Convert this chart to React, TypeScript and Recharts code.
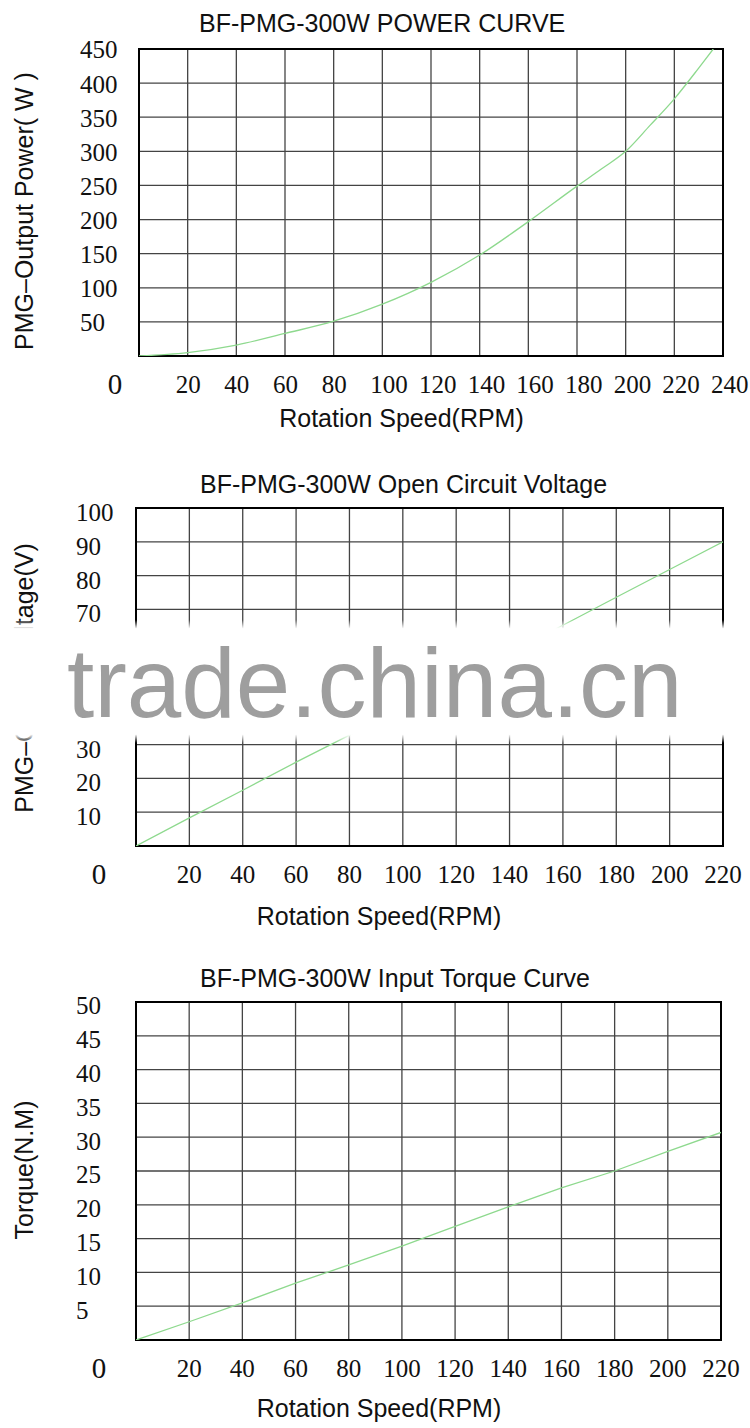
import React from 'react';
import { LineChart, Line, XAxis, YAxis, CartesianGrid, ReferenceArea } from 'recharts';

// ---------- Data ----------
const powerRpm = [0, 20, 40, 60, 80, 100, 120, 140, 160, 180, 190, 200, 210, 220, 230, 236];
const powerWatts = [0, 5, 16, 33, 51, 76, 108, 148, 197, 249, 274, 300, 338, 377, 422, 450];
const powerXTicks = [0, 20, 40, 60, 80, 100, 120, 140, 160, 180, 200, 220, 240];
const powerYTicks = [0, 50, 100, 150, 200, 250, 300, 350, 400, 450];

const voltageRpm = [0, 20, 40, 60, 80, 160, 180, 200, 220];
const voltageVolts = [0, 8.3, 16.5, 24.8, 32.8, 65.3, 73.6, 81.8, 90];
const voltageXTicks = [0, 20, 40, 60, 80, 100, 120, 140, 160, 180, 200, 220];
const voltageYTicks = [0, 10, 20, 30, 40, 50, 60, 70, 80, 90, 100];
// tick labels that the watermark hides in the reference
const voltageHiddenYTicks = [40, 50, 60];

const torqueRpm = [0, 20, 40, 60, 80, 100, 120, 140, 160, 180, 200, 220];
const torqueNm = [0, 2.7, 5.5, 8.4, 11.1, 13.9, 16.8, 19.7, 22.5, 25, 27.9, 30.7];
const torqueXTicks = [0, 20, 40, 60, 80, 100, 120, 140, 160, 180, 200, 220];
const torqueYTicks = [0, 5, 10, 15, 20, 25, 30, 35, 40, 45, 50];

const titles = [
  'BF-PMG-300W POWER CURVE',
  'BF-PMG-300W Open Circuit Voltage',
  'BF-PMG-300W Input Torque Curve',
];
const xLabel = 'Rotation Speed(RPM)';
const yLabels = ['PMG\u2013Output Power( W )', 'PMG\u2013Output Voltage(V)', 'Torque(N.M)'];
const watermark = 'trade.china.cn';

const powerData = powerRpm.map((r, i) => ({ rpm: r, v: powerWatts[i] }));
const voltageData = voltageRpm.map((r, i) => ({ rpm: r, v: voltageVolts[i] }));
const torqueData = torqueRpm.map((r, i) => ({ rpm: r, v: torqueNm[i] }));

const SERIF = "'Liberation Serif', 'Times New Roman', 'DejaVu Serif', serif";
const SANS = "'Liberation Sans', Arial, 'DejaVu Sans', sans-serif";
const GREEN = '#8ed98e';

type PanelProps = {
  top: number;
  height: number;
  data: { rpm: number; v: number }[];
  xTicks: number[];
  yTicks: number[];
  hiddenYTicks?: number[];
  plot: { left: number; right: number; top: number; bottom: number };
  xStartAnchor: boolean;
  zeroDx: number;
  yTickX: number;
  yTickDy: number;
  curve: 'monotone' | 'linear';
};

function Panel(props: PanelProps) {
  const { top, height, data, xTicks, yTicks, hiddenYTicks = [], plot, xStartAnchor, zeroDx, yTickX, yTickDy, curve } = props;
  const yAxisWidth = 40;
  const xAxisHeight = 30;
  const margin = {
    top: plot.top,
    right: 750 - plot.right,
    left: plot.left - yAxisWidth,
    bottom: height - plot.bottom - xAxisHeight,
  };
  const xMax = xTicks[xTicks.length - 1];
  const yMax = yTicks[yTicks.length - 1];
  const base = plot.bottom + 37;

  const XTick = (p: any) => {
    const v = p.payload.value;
    if (v === 0) {
      return (
        <text x={p.x + zeroDx} y={base + 0.5} textAnchor="middle" fontSize={29} fontFamily={SERIF} fill="#111">
          0
        </text>
      );
    }
    return (
      <text
        x={xStartAnchor ? p.x - 12 : p.x}
        y={base}
        textAnchor={xStartAnchor ? 'start' : 'middle'}
        fontSize={25}
        fontFamily={SERIF}
        fill="#111"
      >
        {v}
      </text>
    );
  };

  const YTick = (p: any) => {
    const v = p.payload.value;
    if (v === 0 || hiddenYTicks.includes(v)) return <g />;
    return (
      <text x={yTickX} y={p.y + yTickDy + 8.4} textAnchor="start" fontSize={25} fontFamily={SERIF} fill="#111">
        {v}
      </text>
    );
  };

  return (
    <div style={{ position: 'absolute', left: 0, top, width: 750, height }}>
      <LineChart width={750} height={height} data={data} margin={margin}>
        <CartesianGrid stroke="#444" strokeWidth={1.3} />
        <XAxis
          dataKey="rpm"
          type="number"
          domain={[0, xMax]}
          ticks={xTicks}
          interval={0}
          height={xAxisHeight}
          axisLine={false}
          tickLine={false}
          tick={XTick}
          allowDataOverflow
        />
        <YAxis
          type="number"
          domain={[0, yMax]}
          ticks={yTicks}
          interval={0}
          width={yAxisWidth}
          axisLine={false}
          tickLine={false}
          tick={YTick}
          allowDataOverflow
        />
        <Line
          type={curve}
          dataKey="v"
          stroke={GREEN}
          strokeWidth={1.3}
          dot={false}
          activeDot={false}
          isAnimationActive={false}
        />
        <ReferenceArea
          x1={0}
          x2={xMax}
          y1={0}
          y2={yMax}
          fill="none"
          fillOpacity={0}
          stroke="#000"
          strokeWidth={2}
          ifOverflow="visible"
        />
      </LineChart>
    </div>
  );
}

export default function App() {
  return (
    <div style={{ position: 'absolute', left: 0, top: 0, width: 750, height: 1428, background: '#fff' }}>
      <Panel
        top={0}
        height={440}
        data={powerData}
        xTicks={powerXTicks}
        yTicks={powerYTicks}
        plot={{ left: 139, right: 723, top: 49, bottom: 356 }}
        xStartAnchor={true}
        zeroDx={-24}
        yTickX={80}
        yTickDy={1}
        curve="monotone"
      />
      <Panel
        top={460}
        height={470}
        data={voltageData}
        xTicks={voltageXTicks}
        yTicks={voltageYTicks}
        hiddenYTicks={voltageHiddenYTicks}
        plot={{ left: 136, right: 723, top: 48, bottom: 386 }}
        xStartAnchor={false}
        zeroDx={-37}
        yTickX={76}
        yTickDy={4.5}
        curve="linear"
      />
      <Panel
        top={950}
        height={478}
        data={torqueData}
        xTicks={torqueXTicks}
        yTicks={torqueYTicks}
        plot={{ left: 136, right: 721, top: 52, bottom: 390 }}
        xStartAnchor={false}
        zeroDx={-37}
        yTickX={76}
        yTickDy={4}
        curve="linear"
      />
      <svg
        width={750}
        height={1428}
        style={{ position: 'absolute', left: 0, top: 0, pointerEvents: 'none' }}
      >
        <defs>
          <linearGradient id="wmFade" x1="0" y1="0" x2="0" y2="1">
            <stop offset="0" stopColor="#fff" stopOpacity={0} />
            <stop offset="0.07" stopColor="#fff" stopOpacity={1} />
            <stop offset="0.93" stopColor="#fff" stopOpacity={1} />
            <stop offset="1" stopColor="#fff" stopOpacity={0} />
          </linearGradient>
        </defs>
        <text x={199} y={32} fontSize={25} fontFamily={SANS} fill="#111">{titles[0]}</text>
        <text x={200} y={492.5} fontSize={25} fontFamily={SANS} fill="#111">{titles[1]}</text>
        <text x={200} y={986.5} fontSize={25} fontFamily={SANS} fill="#111">{titles[2]}</text>

        <text x={401.5} y={426.5} textAnchor="middle" fontSize={25} fontFamily={SANS} fill="#111">{xLabel}</text>
        <text x={379} y={925} textAnchor="middle" fontSize={25} fontFamily={SANS} fill="#111">{xLabel}</text>
        <text x={379} y={1416.5} textAnchor="middle" fontSize={25} fontFamily={SANS} fill="#111">{xLabel}</text>

        <text transform="translate(33,211) rotate(-90)" textAnchor="middle" fontSize={25} fontFamily={SANS} fill="#111">{yLabels[0]}</text>
        <text transform="translate(33,678) rotate(-90)" textAnchor="middle" fontSize={25} fontFamily={SANS} fill="#111">{yLabels[1]}</text>
        <text transform="translate(33,1170) rotate(-90)" textAnchor="middle" fontSize={25} fontFamily={SANS} fill="#111">{yLabels[2]}</text>

        <rect x={0} y={620} width={750} height={123} fill="url(#wmFade)" />
        <text x={67} y={717} fontSize={98} fontFamily={SANS} fill="#9e9e9e">{watermark}</text>
      </svg>
    </div>
  );
}
